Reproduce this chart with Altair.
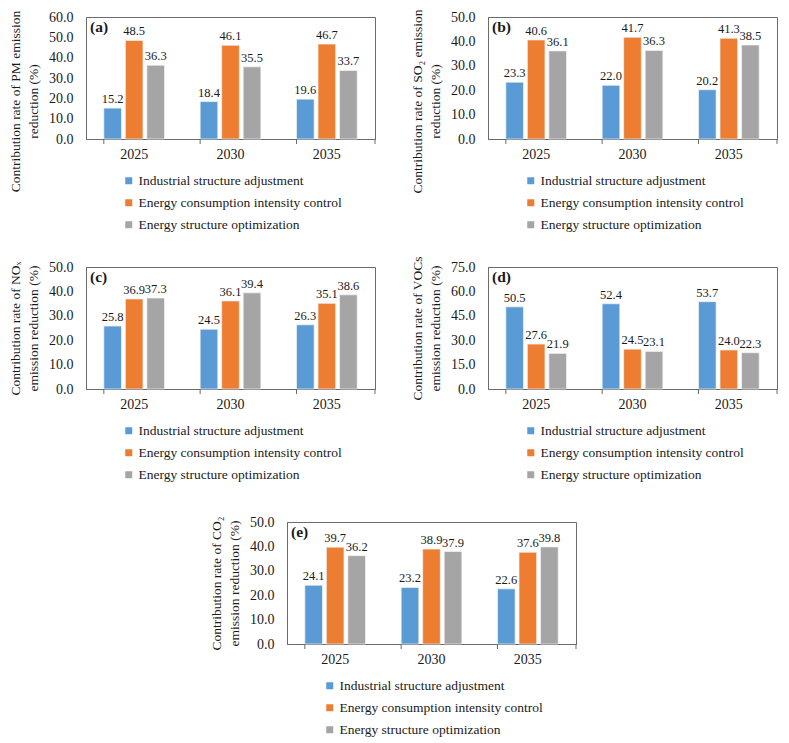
import altair as alt
import pandas as pd

years = ["2025", "2030", "2035"]
measures = ["Industrial structure adjustment",
            "Energy consumption intensity control",
            "Energy structure optimization"]
colors = ["#5B9BD5", "#ED7D31", "#A5A5A5"]

pm_ind = [15.2, 18.4, 19.6]
pm_eci = [48.5, 46.1, 46.7]
pm_eso = [36.3, 35.5, 33.7]

so2_ind = [23.3, 22.0, 20.2]
so2_eci = [40.6, 41.7, 41.3]
so2_eso = [36.1, 36.3, 38.5]

nox_ind = [25.8, 24.5, 26.3]
nox_eci = [36.9, 36.1, 35.1]
nox_eso = [37.3, 39.4, 38.6]

voc_ind = [50.5, 52.4, 53.7]
voc_eci = [27.6, 24.5, 24.0]
voc_eso = [21.9, 23.1, 22.3]

co2_ind = [24.1, 23.2, 22.6]
co2_eci = [39.7, 38.9, 37.6]
co2_eso = [36.2, 37.9, 39.8]

SERIF = "Liberation Serif"
AX = "#6b6b6b"
TXT = "#1a1a1a"
W, H = 289, 122


def panel(tag, title, ind, eci, eso, ymax, step, title_y=None):
    df = pd.DataFrame({
        "year": years * 3,
        "measure": [m for m in measures for _ in years],
        "value": ind + eci + eso,
    })
    x = alt.X("year:N", sort=years,
              scale=alt.Scale(paddingInner=0.37, paddingOuter=0.185),
              axis=alt.Axis(title=None, labelAngle=0, ticks=False, domainColor=AX,
                            labelFont=SERIF, labelFontSize=14, labelColor=TXT,
                            labelPadding=8))
    xo = alt.XOffset("measure:N", sort=measures, scale=alt.Scale(paddingInner=0.18))
    yaxis = dict(title=title, values=list(range(0, ymax + 1, step)), format=".1f",
                 ticks=False, grid=False, domainColor=AX, labelFont=SERIF,
                 labelFontSize=14, labelColor=TXT, labelPadding=13,
                 titleFont=SERIF, titleFontSize=13.5, titleFontWeight="normal",
                 titleColor=TXT, titlePadding=8, titleLineHeight=18)
    if title_y is not None:
        yaxis["titleY"] = title_y
    y = alt.Y("value:Q", scale=alt.Scale(domain=[0, ymax], nice=False),
              axis=alt.Axis(**yaxis))
    base = alt.Chart(df)
    bars = base.mark_bar(stroke="#f4f4f4", strokeWidth=0.7).encode(
        x=x, xOffset=xo, y=y,
        color=alt.Color("measure:N", sort=measures,
                        scale=alt.Scale(domain=measures, range=colors),
                        legend=alt.Legend(orient="none", legendX=36, legendY=157,
                                          title=None, direction="vertical",
                                          symbolType="square", symbolSize=49,
                                          symbolStrokeWidth=0, labelFont=SERIF,
                                          labelFontSize=13.5, labelColor=TXT,
                                          labelLimit=400, rowPadding=7,
                                          labelOffset=3, padding=0)))
    labels = base.mark_text(font=SERIF, fontSize=12.5, baseline="alphabetic",
                            dy=-5, color=TXT).encode(
        x=x, xOffset=xo, y=y, text=alt.Text("value:Q", format=".1f"))
    ticks = alt.Chart(pd.DataFrame({"year": years})).mark_rule(
        color=AX, strokeWidth=1).encode(
        x=alt.X("year:N", sort=years, bandPosition=0),
        y=alt.value(H), y2=alt.value(H + 5))
    rtick = alt.Chart(pd.DataFrame({"k": [0]})).mark_rule(
        color=AX, strokeWidth=1).encode(
        x=alt.value(W), y=alt.value(H), y2=alt.value(H + 5))
    lab = alt.Chart(pd.DataFrame({"t": [tag]})).mark_text(
        font=SERIF, fontSize=15.5, fontWeight="bold", align="left",
        baseline="middle", color=TXT).encode(
        x=alt.value(4), y=alt.value(10), text="t:N")
    return alt.layer(bars, labels, ticks, rtick, lab).properties(width=W, height=H)


pa = panel("(a)", ["Contribution rate of PM emission", "reduction (%)"],
           pm_ind, pm_eci, pm_eso, 60, 10, title_y=84)
pb = panel("(b)", ["Contribution rate of SO₂ emission", "reduction (%)"],
           so2_ind, so2_eci, so2_eso, 50, 10, title_y=84)
pc = panel("(c)", ["Contribution rate of NOₓ", "emission reduction (%)"],
           nox_ind, nox_eci, nox_eso, 50, 10)
pd_ = panel("(d)", ["Contribution rate of VOCs", "emission reduction (%)"],
            voc_ind, voc_eci, voc_eso, 75, 15)
pe = panel("(e)", ["Contribution rate of CO₂", "emission reduction (%)"],
           co2_ind, co2_eci, co2_eso, 50, 10)

row1 = alt.hconcat(pa, pb, spacing=34).resolve_scale(color="independent")
row2 = alt.hconcat(pc, pd_, spacing=34).resolve_scale(color="independent")
top = alt.vconcat(row1, row2, spacing=22, center=True).resolve_scale(color="independent")

chart = alt.vconcat(top, pe, spacing=31, center=True).resolve_scale(
    color="independent").properties(padding=0).configure_view(
    stroke=AX, strokeWidth=1).configure_legend(labelFont=SERIF).configure_axis(
    labelFont=SERIF, titleFont=SERIF)

chart.save("out.html", embed_options={"renderer": "svg", "actions": False})
